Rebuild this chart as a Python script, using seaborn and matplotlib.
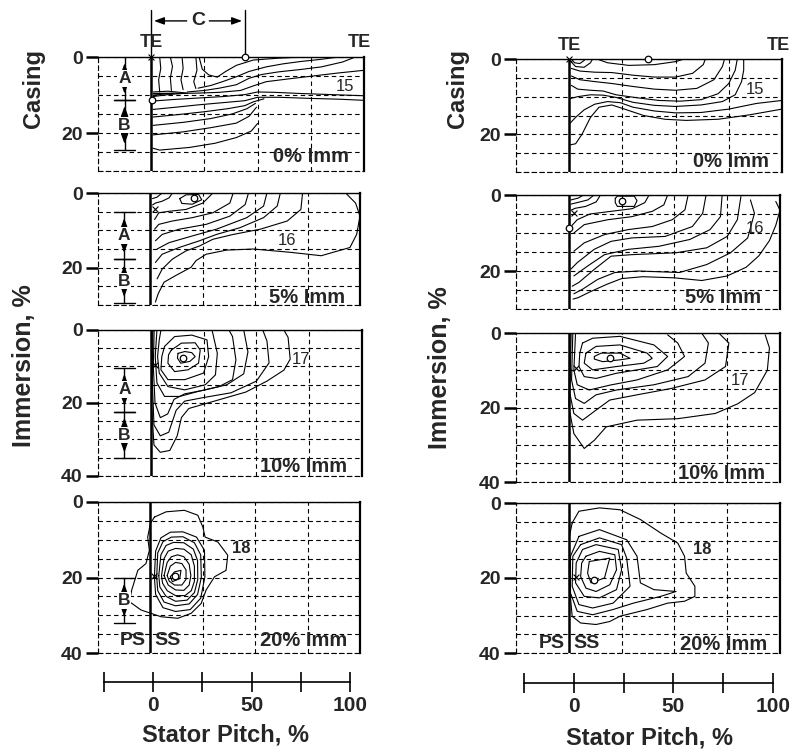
import matplotlib
matplotlib.use("Agg")
import matplotlib.pyplot as plt
import seaborn as sns
from matplotlib.ticker import MultipleLocator

sns.set_style("white")
plt.rcParams['font.family'] = ['Liberation Sans', 'DejaVu Sans']
plt.rcParams['font.weight'] = 'bold'

# ---------------- data (data units: pitch %, immersion %) ----------------
grid_x = [-25, 0, 25, 50, 75, 100]
ruler_ticks = [-25, 0, 25, 50, 75, 100]
ruler_labels = ['', '0', '', '50', '', '100']

# contour traces, left column
l1_lines = [
    [(4, 0), (4.5, 3), (3.5, 6), (4, 9.2)],
    [(9, 0), (10, 2.5), (9, 5.5), (9.5, 8.8)],
    [(14.5, 0), (15, 3), (14, 6), (15, 8.6)],
    [(21, 0), (21.5, 3.5), (20, 6.5), (21, 8.3)],
    [(22.5, 0), (24, 3.2), (27, 4.7), (31, 5.3), (35, 3.8), (40, 2.2), (48, 0.8), (60, 0.3), (72, 0)],
    [(22, 8.2), (28, 7.5), (34, 6.4), (40, 5.2), (46, 3.8), (54, 2.6), (62, 1.8), (70, 1.2), (80, 0.6), (88, 0)],
    [(17, 9.2), (25, 8.8), (32, 8.2), (40, 7.3), (46, 5.6), (52, 4.6), (60, 3.9), (70, 3.3), (80, 2.6), (90, 1.3), (96, 0)],
    [(12, 9.6), (22, 9.5), (32, 9.3), (42, 8.8), (48, 7.6), (54, 6.5), (64, 5.8), (76, 5), (88, 4.2), (100, 3.5)],
    [(1, 9.2), (8, 9.0), (17, 9.5), (8, 9.9), (1, 10.4)],
    [(1, 9.6), (12, 9.5), (1, 10.0)],
    [(0.8, 11.6), (10, 11.2), (22, 10.8), (34, 10.4), (44, 9.9), (50, 9.2), (58, 9.3), (70, 9.6), (85, 9.9), (100, 10.2)],
    [(0.8, 13.8), (10, 13.3), (22, 12.6), (34, 12), (44, 11.5), (50, 10.6), (60, 10.6), (75, 10.9), (88, 11.1), (100, 11.4)],
    [(0.8, 15.8), (12, 15.2), (25, 14.4), (36, 13.6), (44, 12.8), (48, 11.8), (53, 11)],
    [(0.8, 18), (15, 17.2), (28, 16.2), (38, 15), (45, 13.6), (49, 12.2)],
    [(0.8, 20.5), (15, 19.7), (28, 18.6), (40, 17.4), (46, 15.6), (49.5, 13.2)],
    [(0.8, 24), (4, 24.5), (18, 23.8), (30, 22.7), (40, 21.2), (47, 19.5), (50, 17.5)],
]
l2_lines = [
    [(5.6, 0), (3.2, 1.1), (1, 1.5)],
    [(10.5, 0), (8.9, 1.3), (5.6, 2.2), (2.4, 2.7), (1, 3.2)],
    [(14, 1.5), (17, 0.5), (23, 0.4), (24.5, 1.8), (20, 3), (15, 2.8), (14, 1.5)],
    [(29.8, 0), (25, 2.7), (17, 4.4), (8.9, 4.9), (4, 5.3), (2, 7.1)],
    [(39.5, 0), (37.9, 2.7), (29.8, 5.3), (20, 6.6), (10.5, 7.5), (4, 8.4), (2, 9.7)],
    [(46.8, 0), (45.2, 3.1), (37.9, 6.2), (26.6, 8.4), (13.7, 9.7), (5.6, 11.1), (2.4, 12.8)],
    [(55.6, 0), (54, 3.5), (46, 6.6), (31.5, 9.7), (20, 11.5), (8.9, 13.3), (3.2, 15)],
    [(62, 0), (60.5, 3.5), (54, 6.6), (42.7, 9.3), (31.5, 11.1), (23.4, 12.8), (13.7, 14.6), (5.6, 16.4), (2.4, 18.6)],
    [(72.6, 0), (71.8, 4.4), (65.3, 7.5), (52.4, 9.7), (39.5, 11.1), (29.8, 12.4), (23.4, 14.2), (17, 15.5),
     (10.5, 17.7), (5.6, 20.4), (3.2, 23)],
    [(93.5, 0.2), (97.9, 2.7), (100, 6.2), (98.4, 11.1), (95.2, 14.6), (81.5, 16.8), (67, 15.9), (49, 15),
     (36.3, 15.3), (26.6, 16.4), (21.8, 18.1), (19.4, 19.9), (12.1, 22.1), (6.5, 23.9), (3.7, 27), (2.4, 29.2)],
]
l3_lines = [
    [(12.9, 6.4), (16.1, 5.9), (19.4, 6.2), (21, 7.3), (18.5, 8.6), (14.2, 9.1), (12.6, 7.7), (12.9, 6.4)],
    [(9.7, 5.5), (14.5, 3.6), (21, 3.5), (23.4, 5.5), (22.6, 9.1), (17.7, 10.9), (11.3, 11.4), (8.1, 9.1),
     (8.4, 6.8), (9.7, 5.5)],
    [(6.5, 4.5), (11.3, 1.8), (19.4, 1.4), (26.6, 2.7), (27.4, 7.3), (25, 11.8), (16.1, 13.6), (8.1, 13.6),
     (4.8, 10.9), (5.2, 7.3), (6.5, 4.5)],
    [(4.8, 0), (4, 2.7), (3.2, 7.3), (4, 11.8), (8.1, 15.5), (16.1, 16.4), (25.8, 15), (30.6, 12.3), (31.5, 6.4), (29, 0)],
    [(2.9, 0), (2.1, 7.3), (2.9, 14.5), (6.5, 18.2), (13.7, 18.2), (22.6, 16.8), (32.3, 15.5), (38.7, 13.6),
     (40.3, 8.2), (38.7, 1.8), (37, 0)],
    [(1.6, 0), (1.2, 10), (2, 20), (4.5, 24), (8, 23), (11, 19), (16, 17.5), (25, 16.5), (36, 15), (44, 12),
     (46, 6), (44, 0)],
    [(1, 0), (0.7, 14), (1.5, 26), (4.5, 29), (8.5, 28), (12, 22), (16, 19.5), (25, 18.5), (38, 17.2), (50, 14),
     (56, 9), (55, 3), (53, 0)],
    [(0.5, 0), (0.3, 20), (1.5, 31.5), (4.5, 33.5), (9, 33), (12.5, 29), (14.5, 24), (18, 21.5), (30, 19.5),
     (45, 17), (55, 14), (63, 11), (66, 8), (65, 2), (63, 0)],
]
l4_lines = [
    [(9.5, 19.8), (11.5, 18.5), (14.6, 18.1), (14, 20.3), (10.5, 21.1), (9.5, 19.8)],
    [(8, 19.5), (9.5, 17), (12, 16), (15, 16.3), (17, 18), (17, 20.5), (15, 22), (11.5, 22), (9, 21), (8, 19.5)],
    [(6.5, 19.5), (8, 16), (10, 14.5), (13, 14), (16, 14.5), (18.5, 16.5), (19.3, 19.5), (18.5, 22), (16, 23.4),
     (12, 23.3), (8.5, 22), (6.5, 19.5)],
    [(5.3, 19.5), (6.5, 15), (8.5, 13), (12, 12.3), (16, 12.5), (19.5, 14), (21, 17), (21, 21), (19.5, 23.5),
     (16.5, 24.8), (12, 24.8), (8, 23.5), (5.8, 21.5), (5.3, 19.5)],
    [(4, 19.5), (5, 14), (7.5, 11.5), (11, 10.7), (16, 10.8), (20.5, 12.5), (22.5, 15.5), (22.6, 20.5), (21, 24),
     (17.5, 26), (12, 26.3), (7.5, 25), (4.5, 22.5), (4, 19.5)],
    [(3, 19.8), (3.5, 13.5), (6, 10.5), (10, 9.3), (15.5, 9.2), (21, 10.8), (24, 14), (24.3, 20), (22.5, 24.5),
     (18.5, 27), (12, 27.5), (6.5, 26.5), (3.5, 23.5), (3, 19.8)],
    [(1.9, 19.8), (2.5, 13), (5, 9.5), (9.5, 8), (15.5, 7.9), (22, 9.3), (25.8, 12.8), (26, 19.8), (24, 25.5),
     (19, 28.5), (12, 29), (6, 28), (2.5, 24.5), (1.9, 19.8)],
    [(1.9, 4.0), (7.5, 2.6), (16.2, 2.2), (22.6, 3.5), (25, 6.6), (26.1, 9.3), (32.2, 10.6), (36.9, 14.1),
     (36.1, 18.1), (30.6, 19.8), (26.6, 23.3), (24.2, 26.9), (19.4, 29.5), (13.1, 30.8), (5.1, 30.4), (-4.5, 28.6),
     (-10, 26.4), (-8.9, 23.3), (-6, 18.1), (-2.1, 16.3), (-0.5, 12.8), (-1.3, 9.3), (0, 5.7), (1.9, 4.0)],
]

# contour traces, right column
r1_lines = [
    [(1, 0), (2.5, 1), (5, 1.2), (7, 0.4), (7.5, 0)],
    [(0.5, 0.5), (3, 2), (7, 2.2), (10, 1), (11, 0)],
    [(13, 0), (18, 1), (28, 1.7), (40, 1.5), (50, 0.7), (54, 0)],
    [(1, 2.5), (5, 3.2), (12, 3.5), (20, 3.6), (30, 4.3), (40, 4.8), (50, 4.8), (58, 3.8), (63, 1.5), (64, 0)],
    [(1, 4.5), (5, 5.5), (12, 6), (20, 6.5), (30, 7.3), (40, 8), (50, 8.3), (60, 7.8), (68, 5.5), (72, 2), (73, 0)],
    [(1, 7), (4, 8), (10, 8.3), (16, 8.5), (22, 9.5), (32, 10.3), (42, 11), (52, 11.2), (62, 10.8), (70, 9.2),
     (75, 6.5), (78, 3), (79, 0)],
    [(0.5, 10.5), (4, 10), (10, 9.5), (16, 9.6), (22, 10.2), (30, 11.5), (40, 12.3), (50, 12.6), (62, 12.2),
     (72, 11.3), (78, 9.5), (81, 6), (82, 3), (82, 0)],
    [(0.5, 17), (3, 15.5), (7, 13.5), (12, 12), (18, 11.3), (24, 11.6), (30, 12.8), (40, 13.8), (50, 14.3),
     (62, 14.2), (75, 13.3), (88, 11.8), (100, 11)],
    [(0.5, 22.8), (3, 22.5), (6, 20), (10, 15.5), (14, 12.8), (20, 12.2), (26, 13.3), (35, 15), (45, 16),
     (55, 16.3), (70, 16), (85, 14.8), (100, 13.3)],
]
r2_lines = [
    [(7, 0), (4.5, 0.8), (1, 1.3)],
    [(12, 0), (9, 1.3), (4, 2), (1, 2.4)],
    [(15, 0), (13, 1.8), (8, 3), (3, 3.5), (1, 4)],
    [(22, 0.9), (23, 0.3), (31, 0.3), (32.3, 1.5), (31, 3), (23, 3), (22, 2), (22, 0.9)],
    [(38, 0), (36, 2), (30, 3.6), (20, 4.3), (10, 5), (4, 6.5), (1.5, 8)],
    [(46.8, 0), (45, 2.6), (39.5, 4.3), (29.8, 5.7), (18.5, 6.5), (7.3, 7.8), (2.4, 10)],
    [(56.5, 0), (55, 3.9), (49, 6.5), (39.5, 8.3), (28.2, 9.1), (17, 10.4), (7.3, 12.6), (2.4, 14.8)],
    [(65, 0), (63.4, 4.8), (58.5, 8.3), (45.6, 10.9), (29.8, 11.3), (20, 12.2), (12, 14.3), (4, 17.8), (1, 19.5)],
    [(72.6, 0), (71.8, 5.7), (66.9, 9.1), (57.3, 11.7), (42.7, 13.5), (28.2, 14.3), (16.9, 15.7), (8.9, 18.7),
     (2.4, 21.3)],
    [(81.5, 0.4), (79.8, 6.5), (75, 10.9), (65.3, 13.9), (50.8, 15.2), (29.8, 15.7), (20, 16.1), (12, 19.6),
     (4.8, 23), (1.6, 24)],
    [(86, 1.3), (87.9, 4.8), (84.7, 11.3), (76.6, 15.2), (65.3, 18.3), (52.4, 20.4), (33, 20), (21.8, 20.4),
     (13.7, 22.2), (6.5, 24.8), (2.4, 26)],
    [(98, 1.7), (100, 4), (98, 8), (95, 12), (90, 16), (84, 19), (75, 21.3), (63, 22.5), (50, 21.8), (35, 21.5),
     (25, 22), (18, 23.5), (10, 25.5), (4.5, 27), (2, 27.4)],
]
r3_lines = [
    [(12.1, 6.3), (15.3, 5.4), (24.2, 5.4), (29, 6.8), (24.2, 7.2), (16.1, 7.7), (12.1, 7), (12.1, 6.3)],
    [(8.1, 5.4), (12.9, 3.6), (24.2, 3.2), (37.1, 5.4), (39.5, 6.8), (35.5, 8.1), (22.6, 9), (11.3, 9.9),
     (7.3, 8.1), (8.1, 5.4)],
    [(6.5, 2.7), (11.3, 1.4), (24.2, 0.9), (40.3, 3.2), (46.8, 6.3), (41.9, 9), (32.3, 9.9), (22.6, 10.8),
     (12.9, 12.2), (7.3, 11.7), (4.8, 9), (5.2, 5.4), (6.5, 2.7)],
    [(3.2, 0), (2.4, 9.9), (4, 13.9), (9.7, 15.3), (19.4, 14), (32.3, 12.6), (46.8, 9.9), (54.8, 6.3),
     (51.6, 2.7), (46.8, 0.5)],
    [(1.9, 0), (1.3, 12.6), (3.2, 17.6), (7.3, 18.9), (12.9, 16.6), (22.6, 15.3), (40.3, 13.9), (56.5, 11.7),
     (64.5, 8.1), (66.1, 2.7), (62.9, 0)],
    [(1.1, 0), (0.5, 16.2), (2.4, 21.6), (6.5, 23.4), (12.9, 20.7), (19.4, 18), (32.3, 16.6), (48.4, 14.9),
     (64.5, 12.6), (74.2, 9), (75.8, 2.7), (71, 0)],
    [(0.5, 0), (0, 19.8), (2.4, 27), (7.3, 31), (12.1, 28.8), (17.7, 25.2), (32.3, 23.4), (51.6, 23),
     (69.4, 21.6), (80, 19), (88, 16), (94, 10), (95, 4), (93, 0.5)],
]
r4_lines = [
    [(9.7, 15.6), (19.4, 14.7), (16.9, 20), (10.5, 21.3), (8.9, 18.7), (9.7, 15.6)],
    [(8.1, 14.2), (14.5, 12.9), (21.8, 13.8), (22.6, 17.8), (19.4, 21.8), (12.9, 23.6), (8.1, 22.7), (5.6, 19.6),
     (6.1, 16), (8.1, 14.2)],
    [(6.5, 12.4), (12.9, 11.1), (23.4, 12.4), (25, 17.8), (22.6, 23.1), (14.5, 25.3), (7.3, 24.9), (3.2, 21.3),
     (3.5, 16), (6.5, 12.4)],
    [(5.6, 11.1), (14.5, 9.3), (25, 11.1), (27.4, 14.7), (29, 22.2), (21, 26.7), (11.3, 28), (4.8, 27.1),
     (1.6, 22.2), (1.9, 14.2), (5.6, 11.1)],
    [(4.8, 8.9), (14.5, 7.1), (27.4, 9.8), (32.3, 14.2), (33.9, 21.3), (40.3, 23.1), (50.8, 23.6), (43.5, 24.9),
     (30.6, 26.7), (21, 28.4), (11.3, 29.8), (4, 28.9), (0.8, 24), (0.8, 14.2), (4.8, 8.9)],
    [(1.6, 5.3), (4.8, 2.2), (14.5, 1.3), (24.2, 1.8), (33.9, 4.4), (43.5, 8), (51.6, 10.7), (54.8, 14.2),
     (55.6, 18.7), (59.7, 22.2), (59.7, 24.9), (54.8, 26.2), (46.8, 26.7), (37.1, 28.4), (24.2, 30.2),
     (19.4, 31.6), (12.9, 32.4), (5.6, 32), (1.6, 30.2), (0.3, 22.2), (0.3, 8.9), (1.6, 5.3)],
]

# "x" and "o" reference points
x_marks = {'l1': [(0, 0)], 'l2': [(2, 4.4)], 'l3': [(1.9, 9.5)], 'l4': [(1.6, 19.6)],
           'r1': [(0, 0)], 'r2': [(2.4, 4.8)], 'r3': [(3.2, 9.5)], 'r4': [(3.2, 19.7)]}
o_marks = {'l1': [(0.5, 11.3), (44, 0)], 'l2': [(21, 1.3)], 'l3': [(15.3, 7.7)], 'l4': [(11.5, 19.6)],
           'r1': [(37, 0)], 'r2': [(0, 8.7), (25, 1.7)], 'r3': [(19.4, 6.8)], 'r4': [(12.1, 20.4)]}

# A / B dimension bands (left column): boundaries in immersion %
ab_bands = {'l1': [(0, 11.3, 'A'), (11.3, 24.5, 'B')],
            'l2': [(5.1, 17.7, 'A'), (17.7, 29.5, 'B')],
            'l3': [(10.4, 22.4, 'A'), (22.4, 35.2, 'B')],
            'l4': [(20, 32, 'B')]}
c_span = (0, 44)

panels = [
    # key, px box (x0, x1, y0, y1), depth, lines, level, level pos, imm label, imm pos
    ('l1', (98, 364, 57, 171), 30, l1_lines, '15', (91, 7.8), '0% Imm', (93, 26.3)),
    ('l2', (98, 360, 193, 305), 30, l2_lines, '16', (65, 12.6), '5% Imm', (93, 27.9)),
    ('l3', (98, 362, 330, 476), 40, l3_lines, '17', (71, 8.2), '10% Imm', (93, 37.4)),
    ('l4', (98, 360, 502, 653), 40, l4_lines, '18', (43.4, 12.2), '20% Imm', (94, 36.8)),
    ('r1', (516, 782, 59, 172), 30, r1_lines, '15', (87.5, 8), '0% Imm', (94, 27.3)),
    ('r2', (516, 780, 195, 309), 30, r2_lines, '16', (88, 8.7), '5% Imm', (91, 27.1)),
    ('r3', (516, 780, 333, 482), 40, r3_lines, '17', (81, 12.7), '10% Imm', (93, 37.6)),
    ('r4', (516, 780, 503, 653), 40, r4_lines, '18', (63, 12.5), '20% Imm', (94, 37.6)),
]

W, H = 792, 751
fig = plt.figure(figsize=(W / 100, H / 100), dpi=100)


def px_axes(x0, x1, y0, y1):
    return fig.add_axes([x0 / W, 1 - y1 / H, (x1 - x0) / W, (y1 - y0) / H])


def vert_dim(ax, x, y0, y1, label):
    mid = (y0 + y1) / 2
    half = (y1 - y0) / 2
    ax.plot([x, x], [y0, y1], color='k', lw=1.0, clip_on=False)
    for s in (-1, 1):
        ax.annotate('', xy=(x, mid + s * (half - 0.9)), xytext=(x, mid + s * 1.4),
                    arrowprops=dict(arrowstyle='-|>,head_length=0.6,head_width=0.22', color='k', lw=1.0),
                    annotation_clip=False)
    ax.text(x, mid, label, ha='center', va='center', fontsize=12.5,
            bbox=dict(boxstyle='square,pad=0.05', fc='white', ec='none'), zorder=6)


for key, box, depth, lines, level, lpos, imm, ipos in panels:
    ax = px_axes(*box)
    ax.set_facecolor('none')
    for pts in lines:
        xs = [p[0] for p in pts]
        ys = [p[1] for p in pts]
        sns.lineplot(x=xs, y=ys, sort=False, estimator=None, color='black', linewidth=0.8, ax=ax)
    ax.axvline(0, color='black', lw=1.8, zorder=4)
    ax.set_xlim(-25, 100)
    ax.set_ylim(depth, 0)
    ax.set_xticks(grid_x)
    ax.set_yticks([v for v in (0, 20, 40) if v <= depth])
    ax.yaxis.set_minor_locator(MultipleLocator(5))
    ax.grid(which='both', color='black', ls=(0, (4, 3)), lw=0.8)
    ax.tick_params(axis='x', length=0, labelbottom=False)
    ax.tick_params(axis='y', which='major', left=True, length=9, width=1.8, pad=2, labelsize=14,
                   direction='out', color='black')
    ax.tick_params(axis='y', which='minor', left=False, length=0)
    ax.set_xlabel('')
    ax.set_ylabel('')
    for side, sp in ax.spines.items():
        sp.set_color('black')
    ax.spines['top'].set_linewidth(1.0)
    ax.spines['right'].set_linewidth(1.6)
    ax.spines['left'].set_linestyle((0, (4, 3)))
    ax.spines['left'].set_linewidth(0.8)
    ax.spines['bottom'].set_linestyle((0, (4, 3)))
    ax.spines['bottom'].set_linewidth(0.8)

    xm = x_marks[key]
    ax.scatter([p[0] for p in xm], [p[1] for p in xm], marker='x', s=18, c='black', lw=0.8, zorder=7,
               clip_on=False)
    om = o_marks[key]
    ax.scatter([p[0] for p in om], [p[1] for p in om], marker='o', s=22, facecolors='white',
               edgecolors='black', lw=0.9, zorder=7, clip_on=False)

    ax.text(lpos[0], lpos[1], level, ha='center', va='center', fontsize=12,
            fontweight='bold' if level == '18' else 'normal')
    ax.text(ipos[0], ipos[1], imm, ha='right', va='center', fontsize=14.5)

    if key in ab_bands:
        for y0, y1, lab in ab_bands[key]:
            vert_dim(ax, -12.5, y0, y1, lab)
            for yb in (y0, y1):
                if yb > 0.5:
                    ax.plot([-17.5, -7.5], [yb, yb], color='k', lw=1.0, clip_on=False)

    if key in ('l1', 'r1'):
        ax.text(0, -3.7, 'TE', ha='center', va='center', fontsize=13, clip_on=False)
        ax.text(97.7 if key == 'l1' else 98.5, -3.7, 'TE', ha='center', va='center', fontsize=13,
                clip_on=False)
    if key == 'l1':
        for cx in c_span:
            ax.plot([cx, cx], [-12.5, 0], color='k', lw=1.0, clip_on=False)
        cm = (c_span[0] + c_span[1]) / 2
        for end in c_span:
            ax.annotate('', xy=(end, -9.5), xytext=(cm + (4 if end > cm else -4), -9.5),
                        arrowprops=dict(arrowstyle='-|>,head_length=0.6,head_width=0.22', color='k', lw=1.0),
                        annotation_clip=False)
        ax.text(cm, -9.5, 'C', ha='center', va='center', fontsize=14)
    if key in ('l4', 'r4'):
        ax.text(-2, ipos[1], 'PS', ha='right', va='center', fontsize=14)
        ax.text(2, ipos[1], 'SS', ha='left', va='center', fontsize=14)

# pitch rulers under each column
for x0, x1, yl in ((104, 350, 682), (524, 773, 683)):
    rax = px_axes(x0, x1, yl - 2, yl)
    rax.set_facecolor('none')
    rax.set_xlim(-25, 100)
    rax.set_yticks([])
    rax.set_xticks(ruler_ticks)
    rax.set_xticklabels(ruler_labels)
    for s in ('top', 'left', 'right'):
        rax.spines[s].set_visible(False)
    rax.spines['bottom'].set_linewidth(1.2)
    rax.spines['bottom'].set_color('black')
    rax.tick_params(axis='x', bottom=True, direction='inout', length=14, width=1.2, labelsize=15, pad=3,
                    color='black')

fig.text(34 / W, 1 - 88 / H, 'Casing', rotation=90, ha='center', va='center', fontsize=17)
fig.text(458 / W, 1 - 88 / H, 'Casing', rotation=90, ha='center', va='center', fontsize=17)
fig.text(24 / W, 1 - 366 / H, 'Immersion, %', rotation=90, ha='center', va='center', fontsize=18)
fig.text(440 / W, 1 - 368 / H, 'Immersion, %', rotation=90, ha='center', va='center', fontsize=18)
fig.text(225 / W, 1 - 735 / H, 'Stator Pitch, %', ha='center', va='center', fontsize=17)
fig.text(650 / W, 1 - 738 / H, 'Stator Pitch, %', ha='center', va='center', fontsize=17)

fig.savefig('out.png', dpi=100, facecolor='white')
